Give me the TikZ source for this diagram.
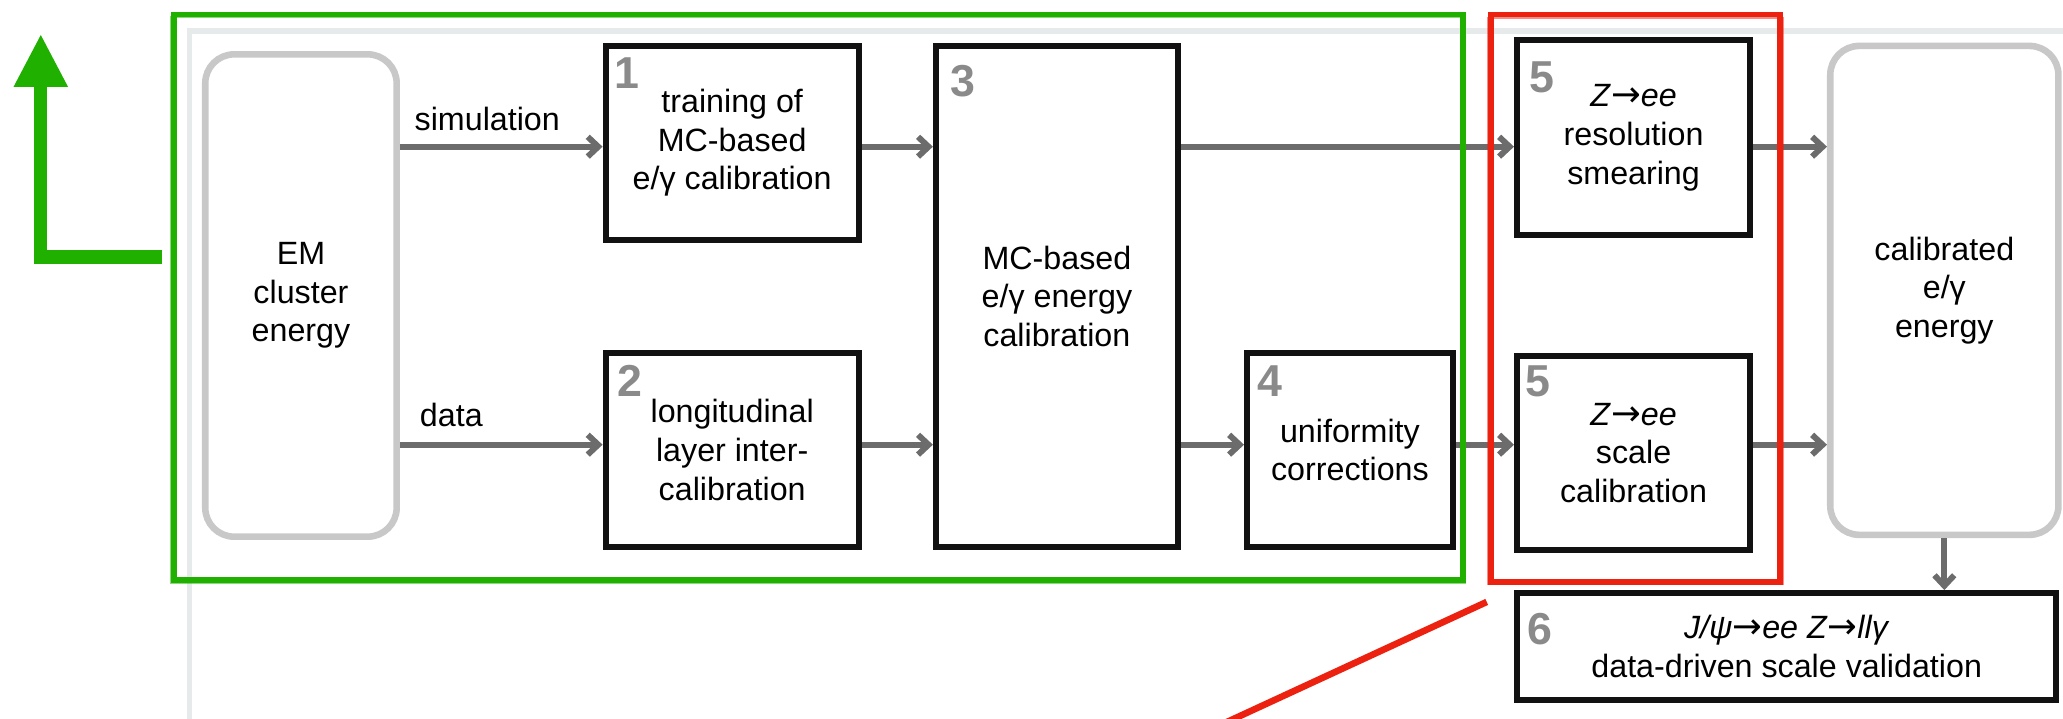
\documentclass[tikz,border=0pt]{standalone}
\usepackage{fontspec}
\setmainfont{Liberation Sans}
\newfontfamily\arrowfont{DejaVu Sans}
\newcommand{\decayto}{{\arrowfont\fontsize{27}{27}\selectfont →}}
\usetikzlibrary{arrows.meta}
\definecolor{flowgray}{RGB}{108,108,108}
\definecolor{boxblack}{RGB}{17,17,17}
\definecolor{numgray}{RGB}{138,138,138}
\definecolor{roundgray}{RGB}{200,200,200}
\definecolor{panelgray}{RGB}{230,234,234}
\definecolor{frgreen}{RGB}{31,176,0}
\definecolor{frred}{RGB}{236,33,15}
\tikzset{
  stepbox/.style={draw=boxblack,line width=4.5,fill=white,align=center,inner sep=0},
  endbox/.style={draw=roundgray,line width=5,rounded corners=22,fill=white,align=center,inner sep=0},
  stepnum/.style={anchor=north west,inner sep=0,text=numgray,font=\fontsize{34}{34}\selectfont\bfseries},
  flow/.style={draw=flowgray,line width=4.5,-{Straight Barb[length=8pt,width=15pt]}},
  lbl/.style={inner sep=0,anchor=base west},
  sketch/.style={line width=4.5},
  rough/.style={line width=1.2,opacity=.5}
}
\begin{document}
\begin{tikzpicture}[x=1pt,y=-1pt,font=\fontsize{24.5}{29.3}\selectfont]
\path[use as bounding box,fill=white] (0,0) rectangle (1568,546);
\draw[panelgray,line width=4] (144,23.5) rectangle (1640,640);
\coordinate (rowA) at (0,111.5);
\coordinate (rowB) at (0,338);
\node[endbox,minimum width=145.5,minimum height=366.6] (em) at (228.75,224.6) {EM\\cluster\\energy};
\node[stepbox,minimum width=192.5,minimum height=148] (b1) at (556.5,108.7) {training of\\MC-based\\e/γ calibration};
\node[stepbox,minimum width=192.5,minimum height=147.5] (b2) at (556.5,342) {longitudinal\\layer inter-\\calibration};
\node[stepbox,minimum width=184,minimum height=381] (b3) at (803.3,225.2) {MC-based\\e/γ energy\\calibration};
\node[stepbox,minimum width=156.5,minimum height=147.5] (b4) at (1026,342) {uniformity\\corrections};
\node[stepbox,minimum width=177.3,minimum height=148] (b5a) at (1241.6,104.7) {\textit{Z}\decayto\textit{ee}\\resolution\\smearing};
\node[stepbox,minimum width=177.3,minimum height=147] (b5b) at (1241.6,344.3) {\textit{Z}\decayto\textit{ee}\\scale\\calibration};
\node[endbox,minimum width=173.4,minimum height=371.6] (cal) at (1477.8,220.7) {calibrated\\e/γ\\energy};
\node[stepbox,minimum width=410,minimum height=81.5] (b6) at (1358,491.5) {\textit{J/ψ}\decayto\textit{ee Z}\decayto\textit{llγ}\\data-driven scale validation};
\node[stepnum] (n1) at ([shift={(8.6,11.6)}]b1.north west) {1};
\node[stepnum] (n2) at ([shift={(11,11.5)}]b2.north west) {2};
\node[stepnum] (n3) at ([shift={(13.5,17)}]b3.north west) {3};
\node[stepnum] (n4) at ([shift={(10,11.5)}]b4.north west) {4};
\node[stepnum] (n5a) at ([shift={(11.3,18.6)}]b5a.north west) {5};
\node[stepnum] (n5b) at ([shift={(8.3,8.9)}]b5b.north west) {5};
\node[stepnum] (n6) at ([shift={(10.3,17.5)}]b6.north west) {6};
\node[lbl] (sim) at (315,99) {simulation};
\node[lbl] (dat) at (319,324.3) {data};
\draw[flow] (em.east|-rowA) -- (b1.west|-rowA);
\draw[flow] (em.east|-rowB) -- (b2.west|-rowB);
\draw[flow] (b1.east|-rowA) -- (b3.west|-rowA);
\draw[flow] (b2.east|-rowB) -- (b3.west|-rowB);
\draw[flow] (b3.east|-rowA) -- (b5a.west|-rowA);
\draw[flow] (b3.east|-rowB) -- (b4.west|-rowB);
\draw[flow] (b4.east|-rowB) -- (b5b.west|-rowB);
\draw[flow] (b5a.east|-rowA) -- (cal.west|-rowA);
\draw[flow] (b5b.east|-rowB) -- (cal.west|-rowB);
\draw[flow] (cal.south) -- (b6.north-|cal.south);
\draw[frgreen,sketch] (132,11) rectangle (1112,441);
\draw[frgreen,rough] (129.5,13) rectangle (1114,443.5);
\draw[frred,sketch] (1133,11) rectangle (1353,442);
\draw[frred,rough] (1131,13.5) rectangle (1355.5,444);
\draw[frred,line width=5] (1130,457.5) -- (900,563.8);
\coordinate (gfoot) at (122.8,195.3);
\coordinate (gtip) at (31,26.6);
\draw[frgreen,line width=10,-{Triangle[length=39.4pt,width=41.4pt,line width=0pt]}] (gfoot) -| (gtip);
\end{tikzpicture}
\end{document}
